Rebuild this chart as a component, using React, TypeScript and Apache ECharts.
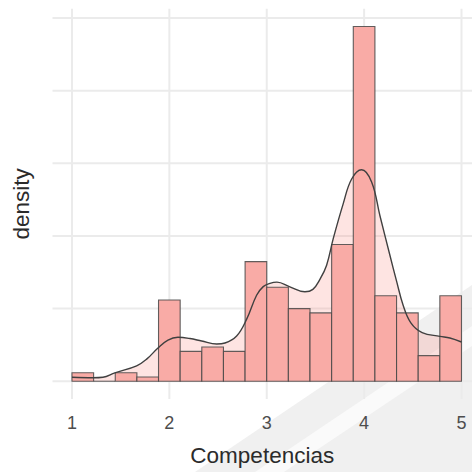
import React, { useEffect, useRef } from "react";
import * as echarts from "echarts";

// Histogram of "Competencias" scores (counts per bin, 18 equal bins from 1 to 5)
const binStart = 1;
const binEnd = 5;
const binCounts = [2, 0, 2, 1, 19, 7, 8, 7, 28, 22, 17, 16, 32, 83, 20, 16, 6, 20];

// Kernel density estimate of the same scores
const densityX = [
  1.0, 1.216, 1.318, 1.441, 1.664, 1.77, 1.883, 1.986, 2.088, 2.211, 2.332, 2.486,
  2.571, 2.691, 2.794, 2.896, 2.964, 3.033, 3.105, 3.238, 3.392, 3.474, 3.546,
  3.615, 3.683, 3.785, 3.872, 3.974, 4.077, 4.162, 4.265, 4.334, 4.4, 4.48,
  4.596, 4.778, 4.881, 5.0,
];
const densityY = [
  0.0137, 0.012, 0.0137, 0.0291, 0.053, 0.077, 0.1146, 0.1419, 0.1512, 0.1471,
  0.1385, 0.1282, 0.1317, 0.1556, 0.2137, 0.2958, 0.3256, 0.3369, 0.341, 0.3249,
  0.3078, 0.3163, 0.3505, 0.3995, 0.4908, 0.6105, 0.696, 0.7278, 0.686, 0.5705,
  0.4337, 0.3437, 0.2626, 0.2012, 0.1676, 0.1546, 0.1488, 0.1351,
];

const xTicks = [1, 2, 3, 4, 5];
const yGridValues = [0, 0.25, 0.5, 0.75, 1, 1.25];

// visible x extent of the panel (the panel runs past the right edge)
const xViewMin = 0.8;
const xViewMax = 5.108;

const FONT = "'Liberation Sans', Arial, sans-serif";

export default function App() {
  const ref = useRef<HTMLDivElement>(null);

  useEffect(() => {
    if (!ref.current) return;
    const chart = echarts.init(ref.current, undefined, { renderer: "svg" });

    const binWidth = (binEnd - binStart) / binCounts.length;
    const total = binCounts.reduce((a, b) => a + b, 0);
    const bars = binCounts.map((c, i) => [
      binStart + i * binWidth,
      binStart + (i + 1) * binWidth,
      c / (total * binWidth),
    ]);
    const maxDensity = Math.max(...bars.map((b) => b[2]), ...densityY);
    const yPad = maxDensity * 0.05;
    const densityPts = densityX.map((x, i) => [x, densityY[i]]);

    chart.setOption({
      animation: false,
      backgroundColor: "#ffffff",
      grid: { left: 52.5, top: 8.8, right: 0, height: 392.5, containLabel: false },
      graphic: [
        {
          type: "polygon",
          silent: true,
          z: -10,
          shape: { points: [[195, 472], [472, 285], [472, 472]] },
          style: { fill: "#f0f0f0" },
        },
        {
          type: "polygon",
          silent: true,
          z: -9,
          shape: { points: [[255, 472], [472, 326], [472, 346], [284, 472]] },
          style: { fill: "#fafafa" },
        },
      ],
      xAxis: {
        type: "value",
        min: xViewMin,
        max: xViewMax,
        axisLine: { show: false },
        axisTick: { show: false },
        splitLine: { show: false },
        axisLabel: {
          customValues: xTicks,
          margin: 15,
          color: "#4d4d4d",
          fontSize: 18,
          fontFamily: FONT,
        },
        name: "Competencias",
        nameLocation: "middle",
        nameGap: 45,
        nameTextStyle: { fontSize: 22.5, color: "#2b2b2b", fontFamily: FONT },
      },
      yAxis: {
        type: "value",
        min: -yPad,
        max: maxDensity + yPad,
        axisLine: { show: false },
        axisTick: { show: false },
        splitLine: { show: false },
        axisLabel: { show: false },
        name: "density",
        nameLocation: "middle",
        nameRotate: 90,
        nameGap: 20,
        nameTextStyle: { fontSize: 22.5, color: "#2b2b2b", fontFamily: FONT },
      },
      series: [
        {
          // vertical grid lines
          type: "custom",
          silent: true,
          z: 0,
          data: xTicks.map((v) => [v, 0]),
          renderItem: (params: any, api: any) => {
            const cs = params.coordSys;
            const p = api.coord([api.value(0), 0]);
            return {
              type: "line",
              shape: { x1: p[0], y1: cs.y, x2: p[0], y2: cs.y + cs.height },
              style: { stroke: "#ebebeb", lineWidth: 2 },
            };
          },
        },
        {
          // horizontal grid lines
          type: "custom",
          silent: true,
          z: 0,
          data: yGridValues.map((v) => [binStart, v]),
          renderItem: (params: any, api: any) => {
            const cs = params.coordSys;
            const p = api.coord([binStart, api.value(1)]);
            return {
              type: "line",
              shape: { x1: cs.x, y1: p[1], x2: cs.x + cs.width, y2: p[1] },
              style: { stroke: "#ebebeb", lineWidth: 2 },
            };
          },
        },
        {
          // density area
          type: "line",
          silent: true,
          z: 1,
          smooth: 0.4,
          showSymbol: false,
          data: densityPts,
          lineStyle: { width: 0 },
          areaStyle: { color: "rgba(248,118,109,0.28)" },
        },
        {
          // histogram bars
          type: "custom",
          silent: true,
          z: 2,
          data: bars,
          encode: { x: [0, 1], y: 2 },
          renderItem: (params: any, api: any) => {
            const p0 = api.coord([api.value(0), api.value(2)]);
            const p1 = api.coord([api.value(1), 0]);
            return {
              type: "rect",
              shape: { x: p0[0], y: p0[1], width: p1[0] - p0[0], height: p1[1] - p0[1] },
              style: { fill: "#f9aba6", stroke: "rgba(70,70,70,0.85)", lineWidth: 1.1 },
            };
          },
        },
        {
          // density outline
          type: "line",
          silent: true,
          z: 3,
          smooth: 0.4,
          showSymbol: false,
          data: densityPts,
          lineStyle: { color: "#404040", width: 1.4 },
        },
      ],
    });

    return () => chart.dispose();
  }, []);

  return (
    <div
      ref={ref}
      style={{ position: "fixed", left: 0, top: 0, width: 472, height: 472 }}
    />
  );
}
